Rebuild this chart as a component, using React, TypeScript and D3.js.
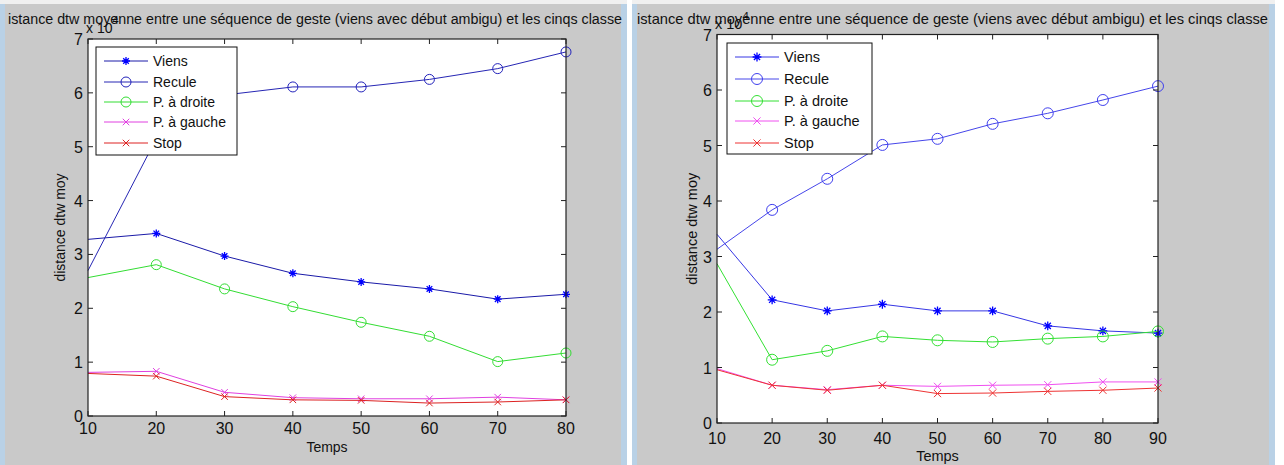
import React from 'react';
import * as d3 from 'd3';

// two MATLAB figure screenshots side by side, same legend for both
const seriesNames = ['Viens', 'Recule', 'P. à droite', 'P. à gauche', 'Stop'];
const seriesMarks = ['star', 'circle', 'circle', 'cross', 'cross'];
const yTicks = [0, 1, 2, 3, 4, 5, 6, 7];
const titleText = 'istance dtw moyenne entre une séquence de geste (viens avec début ambigu) et les cinqs classe';

// left figure (value at 10 is where the clipped line enters the axes)
const tempsA = [10, 20, 30, 40, 50, 60, 70, 80];
const viensA = [3.28, 3.39, 2.97, 2.65, 2.49, 2.36, 2.17, 2.26];
const reculeA = [2.7, 5.15, 5.96, 6.11, 6.11, 6.25, 6.45, 6.76];
const droiteA = [2.57, 2.81, 2.36, 2.03, 1.74, 1.48, 1.01, 1.17];
const gaucheA = [0.81, 0.83, 0.44, 0.34, 0.32, 0.32, 0.35, 0.3];
const stopA = [0.79, 0.74, 0.36, 0.3, 0.29, 0.24, 0.26, 0.3];

// right figure
const tempsB = [10, 20, 30, 40, 50, 60, 70, 80, 90];
const viensB = [3.4, 2.22, 2.02, 2.14, 2.02, 2.02, 1.75, 1.66, 1.62];
const reculeB = [3.13, 3.84, 4.4, 5.01, 5.12, 5.39, 5.58, 5.82, 6.07];
const droiteB = [2.87, 1.14, 1.3, 1.56, 1.49, 1.46, 1.52, 1.56, 1.65];
const gaucheB = [0.98, 0.68, 0.6, 0.68, 0.66, 0.68, 0.69, 0.74, 0.74];
const stopB = [0.96, 0.68, 0.59, 0.68, 0.53, 0.54, 0.57, 0.59, 0.63];

const font = '"Liberation Sans", Arial, sans-serif';

function Marker({ kind, x, y, color, r }) {
  if (kind === 'circle') {
    return <circle cx={x} cy={y} r={r} fill="none" stroke={color} strokeWidth={1} />;
  }
  if (kind === 'star') {
    const s = r * 0.8;
    const a = s * 0.7;
    return (
      <path
        d={`M${x - s},${y}H${x + s}M${x},${y - s}V${y + s}M${x - a},${y - a}L${x + a},${y + a}M${x - a},${y + a}L${x + a},${y - a}`}
        stroke={color}
        strokeWidth={1.3}
      />
    );
  }
  const c = r * 0.65;
  return (
    <path
      d={`M${x - c},${y - c}L${x + c},${y + c}M${x - c},${y + c}L${x + c},${y - c}`}
      stroke={color}
      strokeWidth={1}
    />
  );
}

function Panel({ cfg }) {
  const x = d3.scaleLinear().domain(d3.extent(cfg.temps)).range([cfg.left, cfg.right]);
  const y = d3.scaleLinear().domain([0, 7]).range([cfg.bottom, cfg.top]);
  const line = d3.line().x((d, i) => x(cfg.temps[i])).y(d => y(d));
  const tk = 5;

  return (
    <g fontFamily={font}>
      {/* window */}
      <rect x={cfg.winX} y={0} width={cfg.winW} height={465} fill="#c9c9c9" />
      <rect x={cfg.winX} y={0} width={5} height={465} fill="#b9d1e6" />
      <rect x={cfg.winX + cfg.winW - 6} y={0} width={6} height={465} fill="#b9d1e6" />
      <rect x={cfg.winX} y={0} width={cfg.winW} height={4} fill="#f0f0f0" />

      <text x={cfg.titleX} y={cfg.titleY} fontSize={cfg.fs} textLength={cfg.titleW} lengthAdjust="spacingAndGlyphs" fill="#111">
        {titleText}
      </text>

      {/* axes */}
      <rect x={cfg.left} y={cfg.top} width={cfg.right - cfg.left} height={cfg.bottom - cfg.top} fill="#fff" />

      {cfg.series.map((s, k) => (
        <g key={k}>
          <path d={line(s)} fill="none" stroke={cfg.colors[k]} strokeWidth={1} />
          {s.map((v, i) =>
            i === 0 ? null : (
              <Marker key={i} kind={seriesMarks[k]} x={x(cfg.temps[i])} y={y(v)} color={cfg.markColors[k]} r={cfg.mr} />
            )
          )}
        </g>
      ))}

      <rect x={cfg.left} y={cfg.top} width={cfg.right - cfg.left} height={cfg.bottom - cfg.top} fill="none" stroke="#222" strokeWidth={1.2} />
      {cfg.temps.map(t => (
        <g key={t}>
          <line x1={x(t)} x2={x(t)} y1={cfg.bottom} y2={cfg.bottom - tk} stroke="#222" />
          <line x1={x(t)} x2={x(t)} y1={cfg.top} y2={cfg.top + tk} stroke="#222" />
          <text x={x(t)} y={cfg.xLabY} textAnchor="middle" fontSize={cfg.tfs} fill="#111">{t}</text>
        </g>
      ))}
      {yTicks.map(t => (
        <g key={t}>
          <line x1={cfg.left} x2={cfg.left + tk} y1={y(t)} y2={y(t)} stroke="#222" />
          <line x1={cfg.right} x2={cfg.right - tk} y1={y(t)} y2={y(t)} stroke="#222" />
          <text x={cfg.left - 5} y={y(t) + 6} textAnchor="end" fontSize={cfg.tfs} fill="#111">{t}</text>
        </g>
      ))}

      <text x={cfg.left - 2} y={cfg.top - 6} fontSize={cfg.fs} fill="#111">
        x 10<tspan dy={-9} fontSize={cfg.fs - 3}>4</tspan>
      </text>

      <text x={(cfg.left + cfg.right) / 2} y={cfg.tempsY} textAnchor="middle" fontSize={cfg.fs} fill="#111">Temps</text>
      <text
        transform={`translate(${cfg.yLabX},${(cfg.top + cfg.bottom) / 2}) rotate(-90)`}
        textAnchor="middle"
        fontSize={cfg.fs}
        fill="#111"
      >
        distance dtw moy
      </text>

      {/* legend */}
      <rect x={cfg.lg.x} y={cfg.lg.y} width={cfg.lg.w} height={cfg.lg.h} fill="#fff" stroke="#111" strokeWidth={1} />
      {seriesNames.map((n, k) => {
        const ry = cfg.lg.rows[k];
        return (
          <g key={n}>
            <line x1={cfg.lg.x + 8} x2={cfg.lg.x + 52} y1={ry} y2={ry} stroke={cfg.colors[k]} />
            <Marker kind={seriesMarks[k]} x={cfg.lg.x + 30} y={ry} color={cfg.markColors[k]} r={cfg.mr} />
            <text x={cfg.lg.x + 57} y={ry + 5} fontSize={cfg.fs} fill="#111">{n}</text>
          </g>
        );
      })}
    </g>
  );
}

const panelA = {
  winX: 0, winW: 627,
  left: 88, right: 566, top: 39, bottom: 416,
  temps: tempsA,
  series: [viensA, reculeA, droiteA, gaucheA, stopA],
  colors: ['#1a1aa8', '#2626b4', '#33dd33', '#e040e0', '#dd2222'],
  markColors: ['#0000ff', '#2222bb', '#33dd33', '#e040e0', '#dd2222'],
  mr: 5, fs: 14, tfs: 16,
  titleX: 8, titleY: 24, titleW: 614,
  xLabY: 434, tempsY: 452, yLabX: 65,
  lg: { x: 96, y: 47, w: 141, h: 108, rows: [61, 82, 102, 122, 143] },
};

const panelB = {
  winX: 632, winW: 643,
  left: 717, right: 1158, top: 34.5, bottom: 423,
  temps: tempsB,
  series: [viensB, reculeB, droiteB, gaucheB, stopB],
  colors: ['#3636e4', '#4646ea', '#33e033', '#f050f0', '#ee3333'],
  markColors: ['#0000ff', '#4040ee', '#33e033', '#f050f0', '#ee3333'],
  mr: 5.5, fs: 14.5, tfs: 16,
  titleX: 637, titleY: 24, titleW: 631,
  xLabY: 444, tempsY: 461, yLabX: 697,
  lg: { x: 727, y: 43, w: 145, h: 111, rows: [57, 79, 101, 121, 143] },
};

export default function App() {
  return (
    <svg width={1284} height={465} style={{ position: 'absolute', left: 0, top: 0, background: '#fff' }}>
      <Panel cfg={panelA} />
      <Panel cfg={panelB} />
    </svg>
  );
}
